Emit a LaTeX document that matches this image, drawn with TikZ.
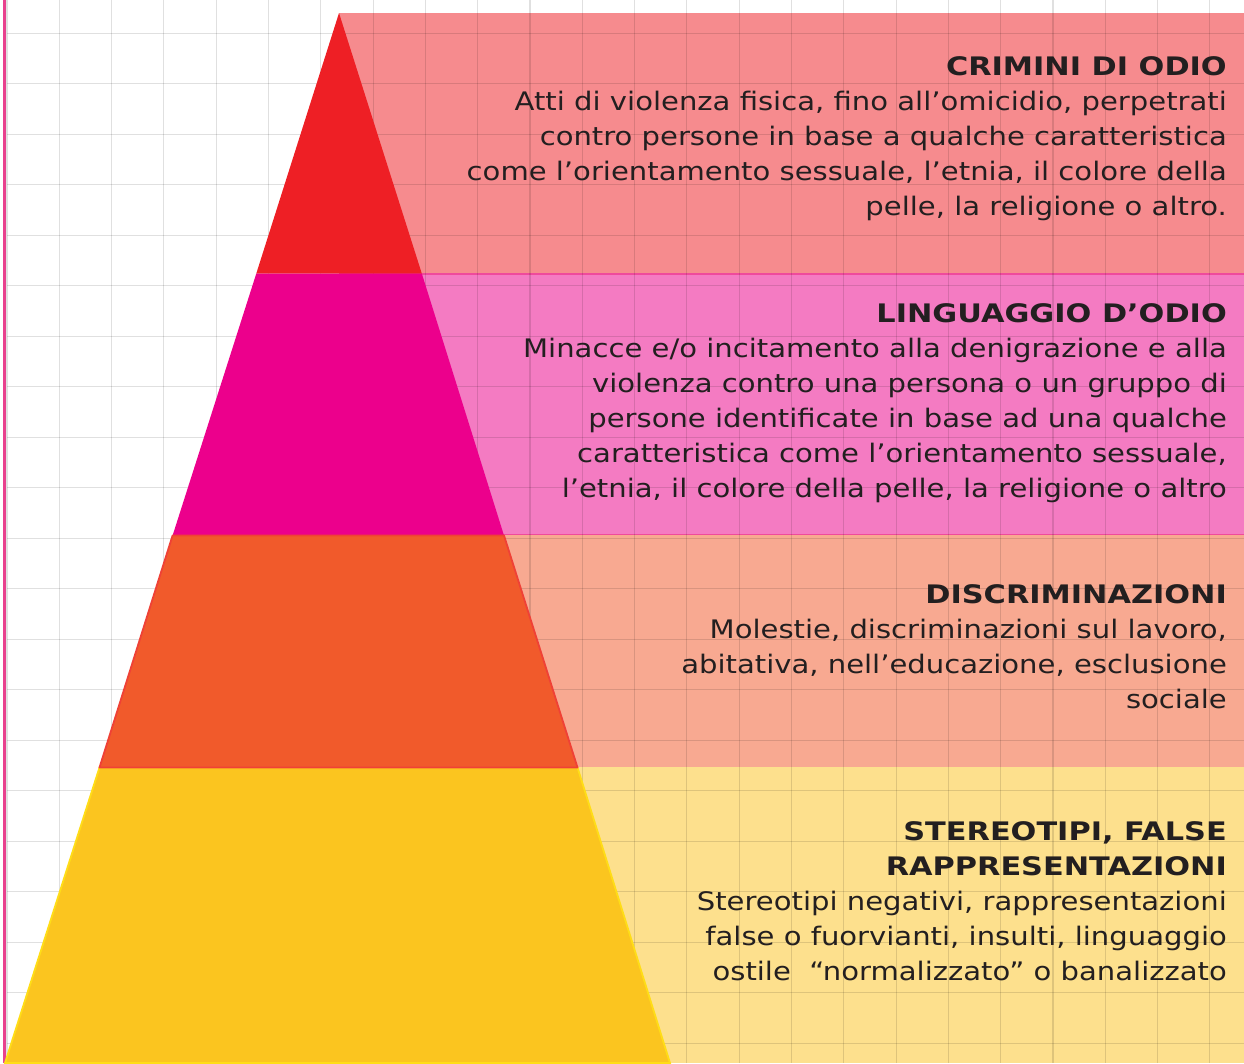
\documentclass[tikz,border=0pt]{standalone}
\usepackage{fontspec}
\setmainfont{DejaVu Sans}[FakeStretch=1.14,BoldFeatures={FakeStretch=1.19}]
\begin{document}
\begin{tikzpicture}[x=1pt,y=-1pt,
  bandtext/.style={anchor=base east,align=right,inner sep=0pt,text=textdark,
    font=\fontsize{25.5}{35}\selectfont},
  gridline/.style={draw=black,draw opacity=0.12,line width=1.1pt}]
\definecolor{textdark}{HTML}{231F20}
\definecolor{pyrred}{HTML}{EE1F25}
\definecolor{pyrmag}{HTML}{EC008C}
\definecolor{pyrorange}{HTML}{F15A2B}
\definecolor{pyryellow}{HTML}{FBC51F}
\definecolor{rectred}{HTML}{F68B8E}
\definecolor{rectpink}{HTML}{F47BC2}
\definecolor{rectorange}{HTML}{F8A991}
\definecolor{rectyellow}{HTML}{FDE08D}
\definecolor{edgered}{HTML}{EF4136}
\definecolor{edgeyellow}{HTML}{FFDD17}
\definecolor{edgepink}{HTML}{EF4A9C}
\definecolor{leftpink}{HTML}{E8418E}
\useasboundingbox (0,0) rectangle (1244,1063);
\fill[white] (0,0) rectangle (1244,1063);
% right-hand bands
\fill[rectred] (339,13) rectangle (1244,274);
\fill[rectpink] (339,274) rectangle (1244,535);
\draw[edgepink,line width=1.2pt] (339,274) -- (1244,274);
\draw[edgepink,line width=1.2pt] (339,535) -- (1244,535);
\fill[rectorange] (339,535) rectangle (1244,767);
\fill[rectyellow] (339,767) rectangle (1244,1063);
% grid
\foreach \k in {0,...,23} {\draw[gridline] ({7+52.3*\k},0) -- ({7+52.3*\k},1063);}
\foreach \k in {0,...,20} {\draw[gridline] (7,{33.3+50.5*\k}) -- (1244,{33.3+50.5*\k});}
% left pink rule
\draw[leftpink,line width=3.5pt] (4.3,0) -- (4.3,1063);
% pyramid
\coordinate (apex) at (339,13);
\coordinate (l1) at (256.3,273.5); \coordinate (r1) at (421.8,273.5);
\coordinate (l2) at (172.6,535.5); \coordinate (r2) at (504,535.5);
\coordinate (l3) at (99.5,767.5);  \coordinate (r3) at (577.5,767.5);
\coordinate (l4) at (5,1063);      \coordinate (r4) at (670,1063);
\fill[pyrred] (apex) -- (r1) -- (l1) -- cycle;
\fill[pyrmag] (l1) -- (r1) -- (r2) -- (l2) -- cycle;
\filldraw[fill=pyryellow,draw=edgeyellow,line width=1.8pt] (l3) -- (r3) -- (r4) -- (l4) -- cycle;
\filldraw[fill=pyrorange,draw=edgered,line width=1.8pt,line join=round] (l2) -- (r2) -- (r3) -- (l3) -- cycle;
% texts (anchor = baseline of the last line)
\node[bandtext] (crimini) at (1227,215) {\textbf{CRIMINI DI ODIO}\\
Atti di violenza fisica, fino all’omicidio, perpetrati\\
contro persone in base a qualche caratteristica\\
come l’orientamento sessuale, l’etnia, il colore della\\
pelle, la religione o altro.};
\node[bandtext] (linguaggio) at (1227,497) {\textbf{LINGUAGGIO D’ODIO}\\
Minacce e/o incitamento alla denigrazione e alla\\
violenza contro una persona o un gruppo di\\
persone identificate in base ad una qualche\\
caratteristica come l’orientamento sessuale,\\
l’etnia, il colore della pelle, la religione o altro};
\node[bandtext] (discrim) at (1227,708) {\textbf{DISCRIMINAZIONI}\\
Molestie, discriminazioni sul lavoro,\\
abitativa, nell’educazione, esclusione\\
sociale};
\node[bandtext] (stereo) at (1227,980) {\textbf{STEREOTIPI, FALSE}\\
\textbf{RAPPRESENTAZIONI}\\
Stereotipi negativi, rappresentazioni\\
false o fuorvianti, insulti, linguaggio\\
ostile~~“normalizzato” o banalizzato};
\end{tikzpicture}
\end{document}
